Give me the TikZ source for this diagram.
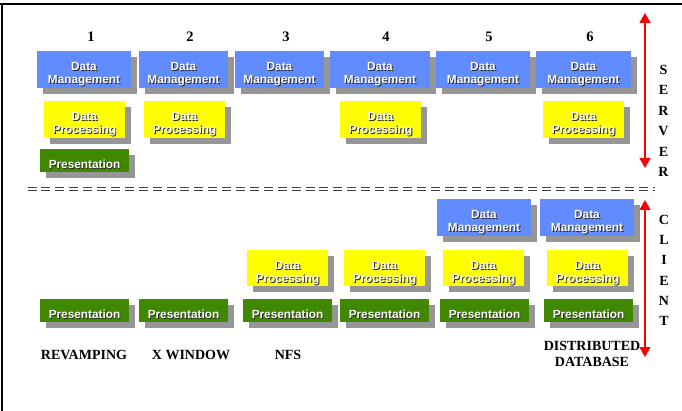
\documentclass[tikz,border=0pt]{standalone}
\usepackage{fontspec}
\setmainfont{Liberation Serif}
\newfontfamily\arialfont{Liberation Sans}
\usetikzlibrary{shadows,calc,arrows.meta}

\definecolor{dmblue}{RGB}{96,140,255}
\definecolor{dpyellow}{RGB}{255,255,0}
\definecolor{prgreen}{RGB}{64,136,0}
\definecolor{shgray}{RGB}{150,150,150}
\definecolor{txtshadow}{RGB}{40,40,40}

\tikzset{
  tier/.style={inner sep=0pt, outer sep=0pt, anchor=north west,
    drop shadow={shadow xshift=6pt, shadow yshift=-6pt, fill=shgray, opacity=1}},
  dmtier/.style={tier, fill=dmblue},
  dptier/.style={tier, fill=dpyellow},
  prtier/.style={tier, fill=prgreen},
  boxtext/.style={inner sep=0pt, anchor=base,
    font=\arialfont\bfseries\fontsize{11.8}{13}\selectfont},
  boxtextfg/.style={boxtext, text=white},
  boxtextbg/.style={boxtext, text=txtshadow},
  numlabel/.style={inner sep=0pt, anchor=base, font=\bfseries\fontsize{14.5}{16}\selectfont},
  caplabel/.style={inner sep=0pt, anchor=base, align=center,
    font=\bfseries\fontsize{14}{16}\selectfont},
  sideletter/.style={inner sep=0pt, anchor=base, font=\bfseries\fontsize{14}{16}\selectfont},
  extentarrow/.style={red, line width=1.3pt, {Triangle[width=11pt,length=10pt]}-{Triangle[width=11pt,length=10pt]}},
  dashrule/.style={draw=black!75, line width=0.8pt, dash pattern=on 9pt off 4.9pt},
}

% embossed text line: box name, line suffix, baseline offset below box top, text
\newcommand\embossed[4]{%
  \node[boxtextbg] (#1-#2s) at ($(#1.north)+(0.9,#3+0.9)$) {#4};
  \node[boxtextfg] (#1-#2) at ($(#1.north)+(0,#3)$) {#4};}

% tier boxes: name, x, y, width, height
\newcommand\dmbox[5]{%
  \node[dmtier, minimum width=#4pt, minimum height=#5pt] (#1) at (#2,#3) {};
  \embossed{#1}{a}{19.7}{Data}\embossed{#1}{b}{33}{Management}}
\newcommand\dpbox[5]{%
  \node[dptier, minimum width=#4pt, minimum height=#5pt] (#1) at (#2,#3) {};
  \embossed{#1}{a}{19.7}{Data}\embossed{#1}{b}{32.3}{Processing}}
\newcommand\prbox[5]{%
  \node[prtier, minimum width=#4pt, minimum height=#5pt] (#1) at (#2,#3) {};
  \embossed{#1}{a}{19.3}{Presentation}}

\begin{document}
\begin{tikzpicture}[x=1pt,y=-1pt]
\useasboundingbox (0,0) rectangle (682,411);

% frame edges
\draw[line width=2pt] (0,4) -- (682,4);
\draw[line width=2pt] (2,4) -- (2,411);

% column numbers
\foreach \n/\x in {1/91,2/190,3/286,4/386,5/489,6/590}
  \node[numlabel] (num\n) at (\x,41.7) {\n};

% server side tiers
\dmbox{sdm1}{37}{51}{94}{37}
\dmbox{sdm2}{139}{51}{89}{37}
\dmbox{sdm3}{235}{51}{89}{37}
\dmbox{sdm4}{330}{51}{100}{37}
\dmbox{sdm5}{436}{51}{94}{37}
\dmbox{sdm6}{536}{51}{95}{37}

\dpbox{sdp1}{44}{101}{81}{37}
\dpbox{sdp2}{144}{101}{81}{37}
\dpbox{sdp4}{340}{101}{81}{37}
\dpbox{sdp6}{543}{101}{81}{37}

\prbox{spr1}{40}{149}{89}{23}

% server / client divide
\draw[dashrule] (27.5,187.5) -- (655,187.5);
\draw[dashrule] (27.5,190) -- (655,190);

% client side tiers
\dmbox{cdm5}{437}{199}{94}{37}
\dmbox{cdm6}{540}{199}{94}{37}

\dpbox{cdp3}{247}{250}{81}{36}
\dpbox{cdp4}{344}{250}{81}{36}
\dpbox{cdp5}{443}{250}{81}{36}
\dpbox{cdp6}{547}{250}{81}{36}

\prbox{cpr1}{40}{299}{89}{23}
\prbox{cpr2}{139}{299}{89}{23}
\prbox{cpr3}{243}{299}{89}{23}
\prbox{cpr4}{340}{299}{89}{23}
\prbox{cpr5}{440}{299}{89}{23}
\prbox{cpr6}{544}{299}{89}{23}

% configuration names
\node[caplabel] (lab1) at (84,359.2) {REVAMPING};
\node[caplabel] (lab2) at (191,359.2) {X WINDOW};
\node[caplabel] (lab3) at (288,359.2) {NFS};
\node[caplabel, anchor=base] (lab6a) at (592,350) {DISTRIBUTED};
\node[caplabel, anchor=base] (lab6b) at (592,366) {DATABASE};

% extent arrows
\coordinate (srvtop) at (645,13);
\coordinate (srvbot) at (645,168);
\coordinate (clitop) at (645,200);
\coordinate (clibot) at (645,357);
\draw[extentarrow] (srvtop) -- (srvbot);
\draw[extentarrow] (clitop) -- (clibot);

% side captions
\foreach \c [count=\i from 0] in {S,E,R,V,E,R}
  \node[sideletter] (srv\i) at (663.5,74.6+20.4*\i) {\c};
\foreach \c [count=\i from 0] in {C,L,I,E,N,T}
  \node[sideletter] (cli\i) at (664,224.6+20.2*\i) {\c};
\end{tikzpicture}
\end{document}
